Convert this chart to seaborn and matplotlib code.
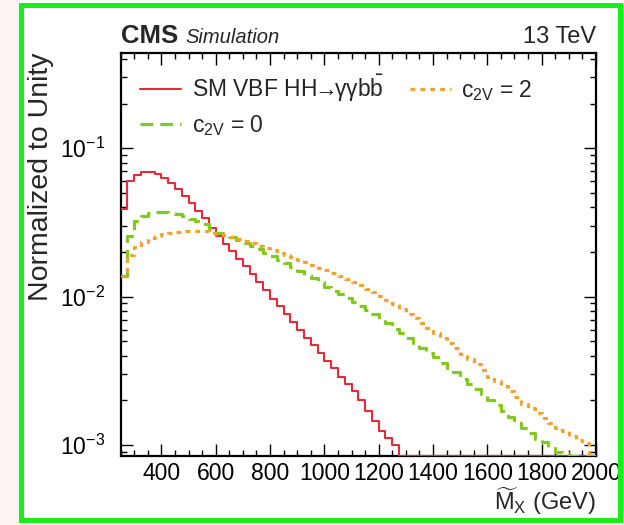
import numpy as np
import pandas as pd
import seaborn as sns
import matplotlib.pyplot as plt
from matplotlib.patches import Rectangle
from matplotlib.ticker import LogLocator, NullFormatter, MultipleLocator

# Histogram binning (GeV): 25 GeV bins from 250 to 2000
bin_start, bin_stop, bin_width = 250, 2000, 25

# Normalised M_X shapes, one value per bin
sm_vbf = [
    0.039, 0.060, 0.066, 0.069, 0.069, 0.067, 0.063, 0.058, 0.053, 0.048,
    0.043, 0.038, 0.034, 0.029, 0.0255, 0.0228, 0.0203, 0.018, 0.016, 0.0142,
    0.0126, 0.0111, 0.0097, 0.0086, 0.0076, 0.0068, 0.0060, 0.0053, 0.0047, 0.0042,
    0.0037, 0.0033, 0.0029, 0.0026, 0.0023, 0.0020, 0.0017, 0.00145, 0.00125, 0.00112,
    0.0010, 0.0008, 0.0007, 0.0006, 0.0005, 0.00045, 0.0004, 0.00035, 0.0003, 0.00026,
    0.00022, 0.0002, 0.00017, 0.00015, 0.00013, 0.00011, 0.0001, 0.00009, 0.00008, 0.00007,
    0.00006, 0.00005, 0.00005, 0.00004, 0.00004, 0.00003, 0.00003, 0.00003, 0.00002, 0.00002,
]
c2v_0 = [
    0.0137, 0.0257, 0.0325, 0.035, 0.0365, 0.0374, 0.0374, 0.0368, 0.0358, 0.0347,
    0.0335, 0.0322, 0.0308, 0.0285, 0.0270, 0.0260, 0.0251, 0.0241, 0.0230, 0.0220,
    0.0209, 0.0198, 0.0188, 0.0178, 0.0168, 0.0159, 0.0150, 0.0141, 0.0133, 0.0125,
    0.0117, 0.0110, 0.0104, 0.0098, 0.0092, 0.0086, 0.0081, 0.0076, 0.0071, 0.0066,
    0.0061, 0.0057, 0.0053, 0.0049, 0.0045, 0.0042, 0.0039, 0.0036, 0.0033, 0.0031,
    0.0028, 0.0026, 0.0024, 0.0022, 0.0020, 0.00185, 0.0017, 0.00155, 0.0014, 0.0013,
    0.0012, 0.0011, 0.00105, 0.00095, 0.0009, 0.00088, 0.0008, 0.0007, 0.0006, 0.0005,
]
c2v_2 = [
    0.0137, 0.019, 0.0215, 0.0234, 0.0247, 0.0257, 0.0265, 0.0270, 0.0274, 0.0276,
    0.0277, 0.0277, 0.0275, 0.0270, 0.0265, 0.0259, 0.0252, 0.0245, 0.0237, 0.0229,
    0.0221, 0.0213, 0.0205, 0.0198, 0.0191, 0.0184, 0.0177, 0.0170, 0.0163, 0.0157,
    0.0151, 0.0144, 0.0137, 0.0131, 0.0125, 0.0119, 0.0113, 0.0107, 0.0101, 0.0095,
    0.0089, 0.0083, 0.0077, 0.0072, 0.0067, 0.0062, 0.0057, 0.0053, 0.0049, 0.0045,
    0.0041, 0.0038, 0.0035, 0.0032, 0.0029, 0.0027, 0.0025, 0.0023, 0.0021, 0.0019,
    0.00178, 0.00165, 0.00152, 0.0014, 0.0013, 0.00124, 0.00115, 0.00108, 0.00104, 0.0008,
]

labels = [
    r"SM VBF HH$\!\!\rightarrow\!\!$γγb$\bar{\mathrm{b}}$",
    r"c$_{\mathrm{2V}}$ = 0",
    r"c$_{\mathrm{2V}}$ = 2",
]
x_ticks = [400, 600, 800, 1000, 1200, 1400, 1600, 1800, 2000]
y_range = (8.45e-4, 0.44)

sns.set_theme(style="ticks")
plt.rcParams["font.family"] = ["Liberation Sans", "DejaVu Sans"]
plt.rcParams["mathtext.fontset"] = "custom"
plt.rcParams["mathtext.rm"] = "Liberation Sans"
plt.rcParams["mathtext.it"] = "Liberation Sans:italic"
plt.rcParams["mathtext.bf"] = "Liberation Sans:bold"

fig = plt.figure(figsize=(6.24, 5.25), dpi=100)
fig.patch.set_facecolor("white")
ax = fig.add_axes([0.1934, 0.1314, 0.7616, 0.7682])

edges = np.arange(bin_start, bin_stop + bin_width, bin_width)
styles = [
    (sm_vbf, "#e52a3a", 1.5, None),
    (c2v_0, "#82c81e", 2.3, (4.0, 2.2)),
    (c2v_2, "#f3a22e", 2.3, (1.5, 1.6)),
]
handles = []
for (values, color, lw, dashes), label in zip(styles, labels):
    # values below the frame are drawn on the lower edge, as in ROOT
    y = np.clip(np.append(values, values[-1]), y_range[0], None)
    df = pd.DataFrame({"x": edges, "y": y})
    sns.lineplot(data=df, x="x", y="y", drawstyle="steps-post", color=color,
                 lw=lw, estimator=None, sort=False, ax=ax, legend=False, zorder=3)
    line = ax.get_lines()[-1]
    if dashes is not None:
        line.set_dashes(dashes)
    line.set_label(label)
    handles.append(line)

ax.set_xlim(bin_start, bin_stop)
ax.set_yscale("log")
ax.set_ylim(*y_range)
ax.xaxis.set_minor_locator(MultipleLocator(50))
ax.set_xticks(x_ticks)
ax.set_xticklabels([str(t) for t in x_ticks])
ax.yaxis.set_major_locator(LogLocator(base=10, numticks=10))
ax.yaxis.set_minor_locator(LogLocator(base=10, subs=np.arange(2, 10), numticks=20))
ax.yaxis.set_minor_formatter(NullFormatter())

ax.tick_params(which="both", direction="in", top=True, right=True, colors="black",
               labelsize=16.5)
ax.tick_params(which="major", length=8.6, width=1.0)
ax.tick_params(which="minor", length=4.3, width=1.0)
ax.tick_params(axis="y", which="major", pad=11)
ax.tick_params(axis="x", which="major", pad=4)
for s in ax.spines.values():
    s.set_linewidth(1.6)
    s.set_color("black")

ax.set_ylabel("Normalized to Unity", fontsize=20.5, loc="top")
ax.yaxis.set_label_coords(-0.14, 1.0)
ax.set_xlabel(r"$\widetilde{\mathrm{M}}_{\mathrm{X}}$ (GeV)", fontsize=17, loc="right")
ax.xaxis.set_label_coords(1.0, -0.072)

ax.legend(handles=handles, ncol=2, loc="upper left", bbox_to_anchor=(0.0406, 0.95),
          frameon=False, fontsize=16.5, handlelength=1.8, handletextpad=0.45,
          columnspacing=1.15, labelspacing=0.4, borderpad=0, borderaxespad=0)

ax.text(0.0, 1.024, "CMS", transform=ax.transAxes, fontsize=18.5, fontweight="bold",
        ha="left", va="baseline")
ax.text(0.137, 1.024, "Simulation", transform=ax.transAxes, fontsize=14.5,
        style="italic", ha="left", va="baseline")
ax.text(1.0, 1.024, "13 TeV", transform=ax.transAxes, fontsize=17,
        ha="right", va="baseline")

# slide frame around the figure
fig.add_artist(Rectangle((0, 0), 18 / 624, 1, transform=fig.transFigure,
                         facecolor="#fdf3f2", edgecolor="none", zorder=0))
fig.add_artist(Rectangle((20.5 / 624, 5.5 / 525), 599 / 624, 515 / 525,
                         transform=fig.transFigure, fill=False,
                         edgecolor="#1aee1a", lw=3.6, zorder=5))

fig.savefig("out.png", dpi=100)
